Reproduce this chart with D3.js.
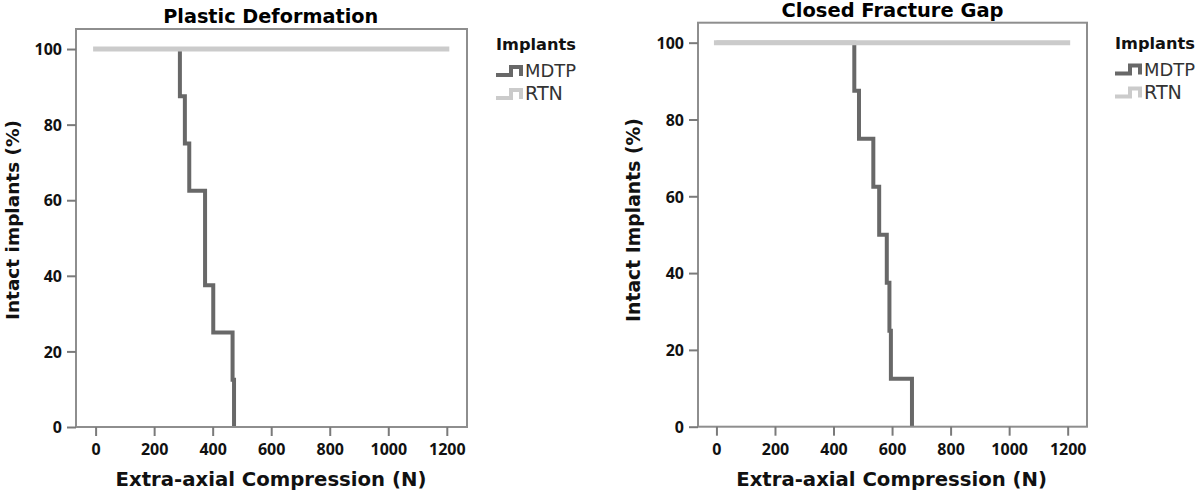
<!DOCTYPE html>
<html><head><meta charset="utf-8">
<script src="https://cdn.jsdelivr.net/npm/d3@7"></script>
<style>body{margin:0;background:#fff} svg{display:block}</style>
</head><body>
<svg id="c" width="1200" height="492"></svg>
<script>
// ---------- data ----------
const xTicks = [0, 200, 400, 600, 800, 1000, 1200];
const yTicks = [0, 20, 40, 60, 80, 100];
const legendTitle = "Implants";
const seriesNames = ["MDTP", "RTN"];
const panelTitles = ["Plastic Deformation", "Closed Fracture Gap"];
const yLabels = ["Intact implants (%)", "Intact Implants (%)"];
const xLabel = "Extra-axial Compression (N)";

const plasticMDTPTimes = [0, 288, 305, 320, 374, 402, 468, 473];
const plasticMDTPSurv  = [100, 87.5, 75, 62.5, 37.5, 25, 12.5, 0];
const plasticRTNTimes  = [0, 1200];
const plasticRTNSurv   = [100, 100];

const gapMDTPTimes = [0, 471, 487, 536, 556, 582, 591, 596, 668];
const gapMDTPSurv  = [100, 87.5, 75, 62.5, 50, 37.5, 25, 12.5, 0];
const gapRTNTimes  = [0, 1200];
const gapRTNSurv   = [100, 100];

// ---------- styles / layout ----------
const colors = {MDTP: "#686868", RTN: "#cbcbcb"};
const widths = {MDTP: 4, RTN: 5};
const FONT = "'DejaVu Sans', sans-serif";
const TICKFONT = "'Noto Sans', 'DejaVu Sans', sans-serif";

const panels = [
  {title: panelTitles[0], yLabel: yLabels[0],
   series: [{name: "MDTP", t: plasticMDTPTimes, s: plasticMDTPSurv},
            {name: "RTN",  t: plasticRTNTimes,  s: plasticRTNSurv}],
   xDom: [-67, 1269], xRng: [76, 467], yDom: [0, 105.3], yRng: [427, 29],
   titlePos: [270.7, 22.7, 215], yLabPos: [19, 220, 200], xLabPos: [271, 486, 311],
   legend: [496, 50]},
  {title: panelTitles[1], yLabel: yLabels[1],
   series: [{name: "MDTP", t: gapMDTPTimes, s: gapMDTPSurv},
            {name: "RTN",  t: gapRTNTimes,  s: gapRTNSurv}],
   xDom: [-63, 1266], xRng: [698, 1087], yDom: [0, 105.2], yRng: [426.7, 22.7],
   titlePos: [892.5, 17, 222], yLabPos: [640, 220, 204], xLabPos: [891.6, 486, 311],
   legend: [1115, 48.5]}
];

const svg = d3.select("#c");

function fit(sel, target, base) {
  sel.style("font-size", base + "px");
  const len = sel.node().getComputedTextLength();
  if (len > 0) sel.style("font-size", (base * target / len) + "px");
  return sel;
}

panels.forEach(p => {
  const g = svg.append("g");
  const x = d3.scaleLinear().domain(p.xDom).range(p.xRng);
  const y = d3.scaleLinear().domain(p.yDom).range(p.yRng);
  const [x0, x1] = p.xRng, [yb, yt] = p.yRng;

  // series
  const line = d3.line().x(d => x(d[0])).y(d => y(d[1])).curve(d3.curveStepAfter);
  p.series.forEach(s => {
    const pts = s.t.map((t, i) => [t, s.s[i]]);
    g.append("path").attr("d", line(pts))
      .attr("fill", "none").attr("stroke", colors[s.name])
      .attr("stroke-width", widths[s.name])
      .attr("stroke-linecap", s.name === "RTN" ? "square" : "butt")
      .attr("stroke-linejoin", "miter");
  });

  // frame
  g.append("rect").attr("x", x0).attr("y", yt).attr("width", x1 - x0).attr("height", yb - yt)
    .attr("fill", "none").attr("stroke", "#8e8e8e").attr("stroke-width", 2);

  // x axis
  const xa = g.append("g").attr("transform", `translate(0,${yb})`)
    .call(d3.axisBottom(x).tickValues(xTicks).tickSize(9).tickFormat(d3.format("d")));
  xa.select(".domain").remove();
  xa.selectAll(".tick line").attr("stroke", "#7a7a7a").attr("stroke-width", 2);
  xa.selectAll(".tick text").attr("y", 28).attr("dy", 0)
    .style("font-family", TICKFONT).style("font-weight", "bold").style("font-size", "16px")
    .attr("fill", "#111");

  // y axis
  const ya = g.append("g").attr("transform", `translate(${x0},0)`)
    .call(d3.axisLeft(y).tickValues(yTicks).tickSize(9).tickFormat(d3.format("d")));
  ya.select(".domain").remove();
  ya.selectAll(".tick line").attr("stroke", "#7a7a7a").attr("stroke-width", 2);
  ya.selectAll(".tick text").attr("x", -14).attr("dy", "0.36em")
    .style("font-family", TICKFONT).style("font-weight", "bold").style("font-size", "16px")
    .attr("fill", "#111");

  // title
  const tt = g.append("text").text(p.title)
    .attr("x", p.titlePos[0]).attr("y", p.titlePos[1]).attr("text-anchor", "middle")
    .style("font-family", FONT).style("font-weight", "bold").attr("fill", "#000");
  fit(tt, p.titlePos[2], 19);

  // x label
  const xl = g.append("text").text(xLabel)
    .attr("x", p.xLabPos[0]).attr("y", p.xLabPos[1]).attr("text-anchor", "middle")
    .style("font-family", FONT).style("font-weight", "bold").attr("fill", "#111");
  fit(xl, p.xLabPos[2], 20);

  // y label
  const yl = g.append("text").text(p.yLabel)
    .attr("transform", `translate(${p.yLabPos[0]},${p.yLabPos[1]}) rotate(-90)`)
    .attr("text-anchor", "middle")
    .style("font-family", FONT).style("font-weight", "bold").attr("fill", "#111");
  fit(yl, p.yLabPos[2], 20);

  // legend
  const [lx, ly] = p.legend;
  const lg = g.append("g");
  const lt = lg.append("text").text(legendTitle).attr("x", lx).attr("y", ly)
    .style("font-family", FONT).style("font-weight", "bold").attr("fill", "#111");
  fit(lt, 80, 16);
  seriesNames.forEach((n, i) => {
    const by = ly + 27 + i * 23;
    lg.append("path")
      .attr("d", `M${lx},${by - 2} H${lx + 15} V${by - 10} H${lx + 25} V${by - 1}`)
      .attr("fill", "none").attr("stroke", colors[n]).attr("stroke-width", 4);
    const tx = lg.append("text").text(n).attr("x", lx + 29).attr("y", by)
      .style("font-family", FONT).attr("fill", "#333");
    fit(tx, n === "MDTP" ? 51 : 38, 17);
  });
});
</script>
</body></html>
